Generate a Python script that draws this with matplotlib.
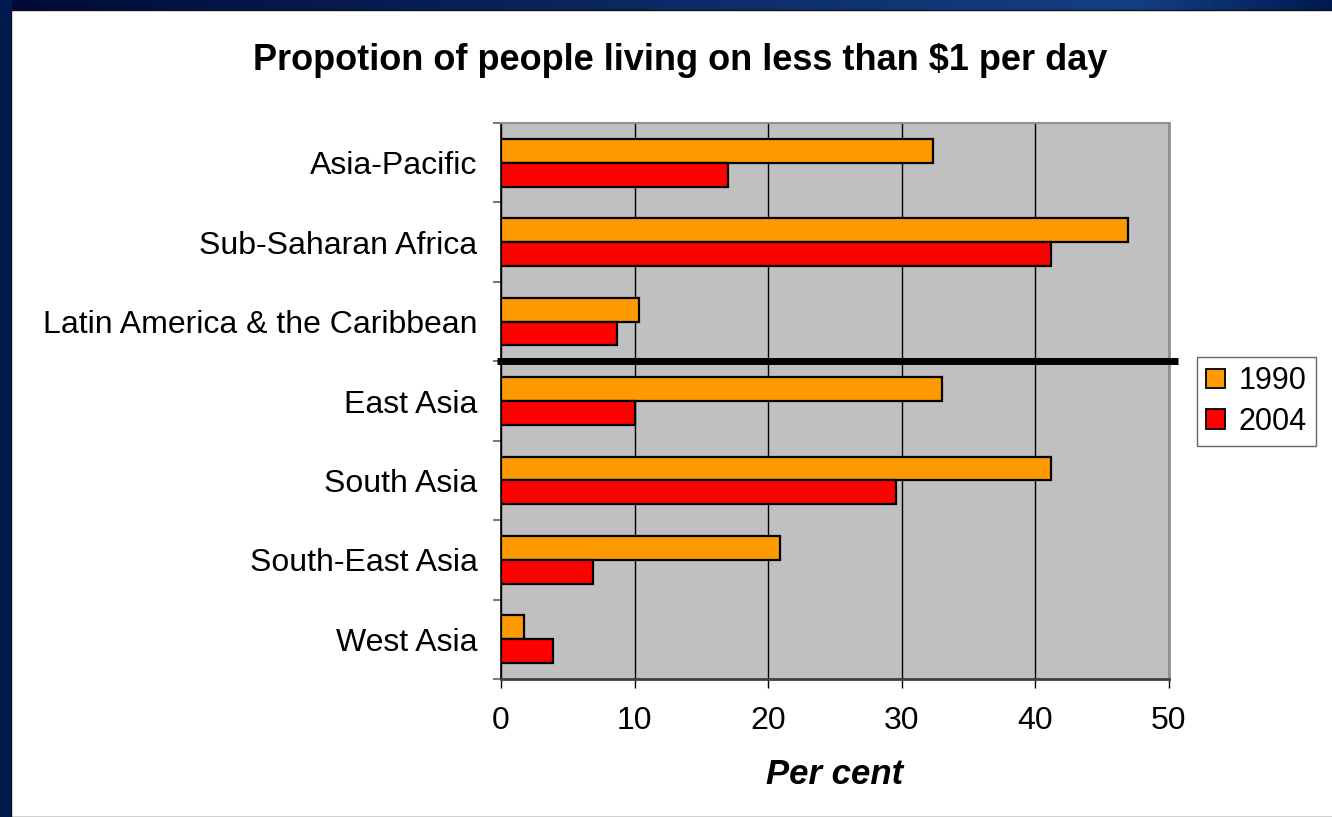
import numpy as np
import matplotlib
matplotlib.use("Agg")
import matplotlib.pyplot as plt
from matplotlib.patches import Patch, Rectangle

plt.rcParams['font.family'] = ['Liberation Sans', 'DejaVu Sans']

# ---- data ----
categories = ["Asia-Pacific", "Sub-Saharan Africa", "Latin America & the Caribbean",
              "East Asia", "South Asia", "South-East Asia", "West Asia"]
values_1990 = [32.3, 46.9, 10.3, 33.0, 41.2, 20.9, 1.7]
values_2004 = [17.0, 41.2, 8.7, 10.0, 29.6, 6.9, 3.9]
series_names = ["1990", "2004"]
x_ticks = [0, 10, 20, 30, 40, 50]
title = "Propotion of people living on less than $1 per day"
xlabel = "Per cent"

W, H = 1332, 817
fig = plt.figure(figsize=(W / 100, H / 100), dpi=100)

# blue frame background with gradient
bg = fig.add_axes([0, 0, 1, 1], zorder=-10)
grad = np.linspace(0, 1, 256)
c0 = np.array([0.0, 0.04, 0.22])
c1 = np.array([0.08, 0.25, 0.52])
c2 = np.array([0.0, 0.10, 0.32])
cols = np.array([c0 + (c1 - c0) * (g / 0.85) if g < 0.85 else c1 + (c2 - c1) * ((g - 0.85) / 0.15) for g in grad])
bg.imshow(cols[np.newaxis, :, :], aspect='auto', extent=[0, 1, 0, 1])
bg.set_xlim(0, 1); bg.set_ylim(0, 1)
bg.axis('off')
bg.add_patch(Rectangle((0, 0), 0.0085, 1, color='#001a50', zorder=2))
bg.add_patch(Rectangle((11 / W, 0), 1, 1 - 10 / H, facecolor='white',
                       edgecolor='#111111', linewidth=1.0, zorder=3))

# main axes
left, right = 501 / W, 1169 / W
top, bottom = 1 - 123 / H, 1 - 679 / H
ax = fig.add_axes([left, bottom, right - left, top - bottom])
ax.set_facecolor('#C0C0C0')

y = np.arange(len(categories))
h = 0.3
ax.barh(y - h / 2, values_1990, height=h, color='#FF9900', edgecolor='black',
        linewidth=1.6, zorder=3, label=series_names[0])
ax.barh(y + h / 2, values_2004, height=h, color='#FF0000', edgecolor='black',
        linewidth=1.6, zorder=3, label=series_names[1])

ax.set_xlim(0, 50)
ax.set_ylim(len(categories) - 0.5, -0.5)
ax.set_xticks(x_ticks)
ax.set_xticklabels([str(t) for t in x_ticks], fontsize=23)
ax.set_yticks(y)
ax.set_yticklabels(categories, fontsize=23)
ax.tick_params(axis='y', length=0, pad=17)
ax.set_yticks(np.arange(-0.5, len(categories) + 0.5, 1), minor=True)
ax.tick_params(axis='y', which='minor', length=6, width=1.2, color='#606060', direction='out')
ax.tick_params(axis='x', length=6.5, width=1, color='black', direction='out', pad=13)
ax.grid(axis='x', color='black', linewidth=1.0, zorder=1)
ax.set_axisbelow(True)

ax.spines['top'].set_color('#909090'); ax.spines['top'].set_linewidth(1.5)
ax.spines['right'].set_color('#909090'); ax.spines['right'].set_linewidth(2)
ax.spines['left'].set_color('black'); ax.spines['left'].set_linewidth(1.2)
ax.spines['bottom'].set_color('#404040'); ax.spines['bottom'].set_linewidth(2)

# separator line between regions
ax.plot([-0.3, 50.7], [2.5, 2.5], color='black', linewidth=5, clip_on=False, zorder=5,
        solid_capstyle='butt')

ax.set_xlabel(xlabel, fontsize=25, fontweight='bold', fontstyle='italic', labelpad=16)

fig.text(680 / W, 1 - 60 / H, title, fontsize=26, fontweight='bold', ha='center', va='center')

handles = [Patch(facecolor='#FF9900', edgecolor='black', linewidth=1.3),
           Patch(facecolor='#FF0000', edgecolor='black', linewidth=1.3)]
leg = fig.legend(handles, series_names, loc='upper left',
                 bbox_to_anchor=(1197 / W, 1 - 357 / H), fontsize=22,
                 frameon=True, fancybox=False, edgecolor='#404040',
                 handlelength=0.6, handleheight=0.6, handletextpad=0.45,
                 borderpad=0.3, labelspacing=0.35, borderaxespad=0)
leg.get_frame().set_linewidth(1.0)

fig.savefig("out.png", dpi=100)
